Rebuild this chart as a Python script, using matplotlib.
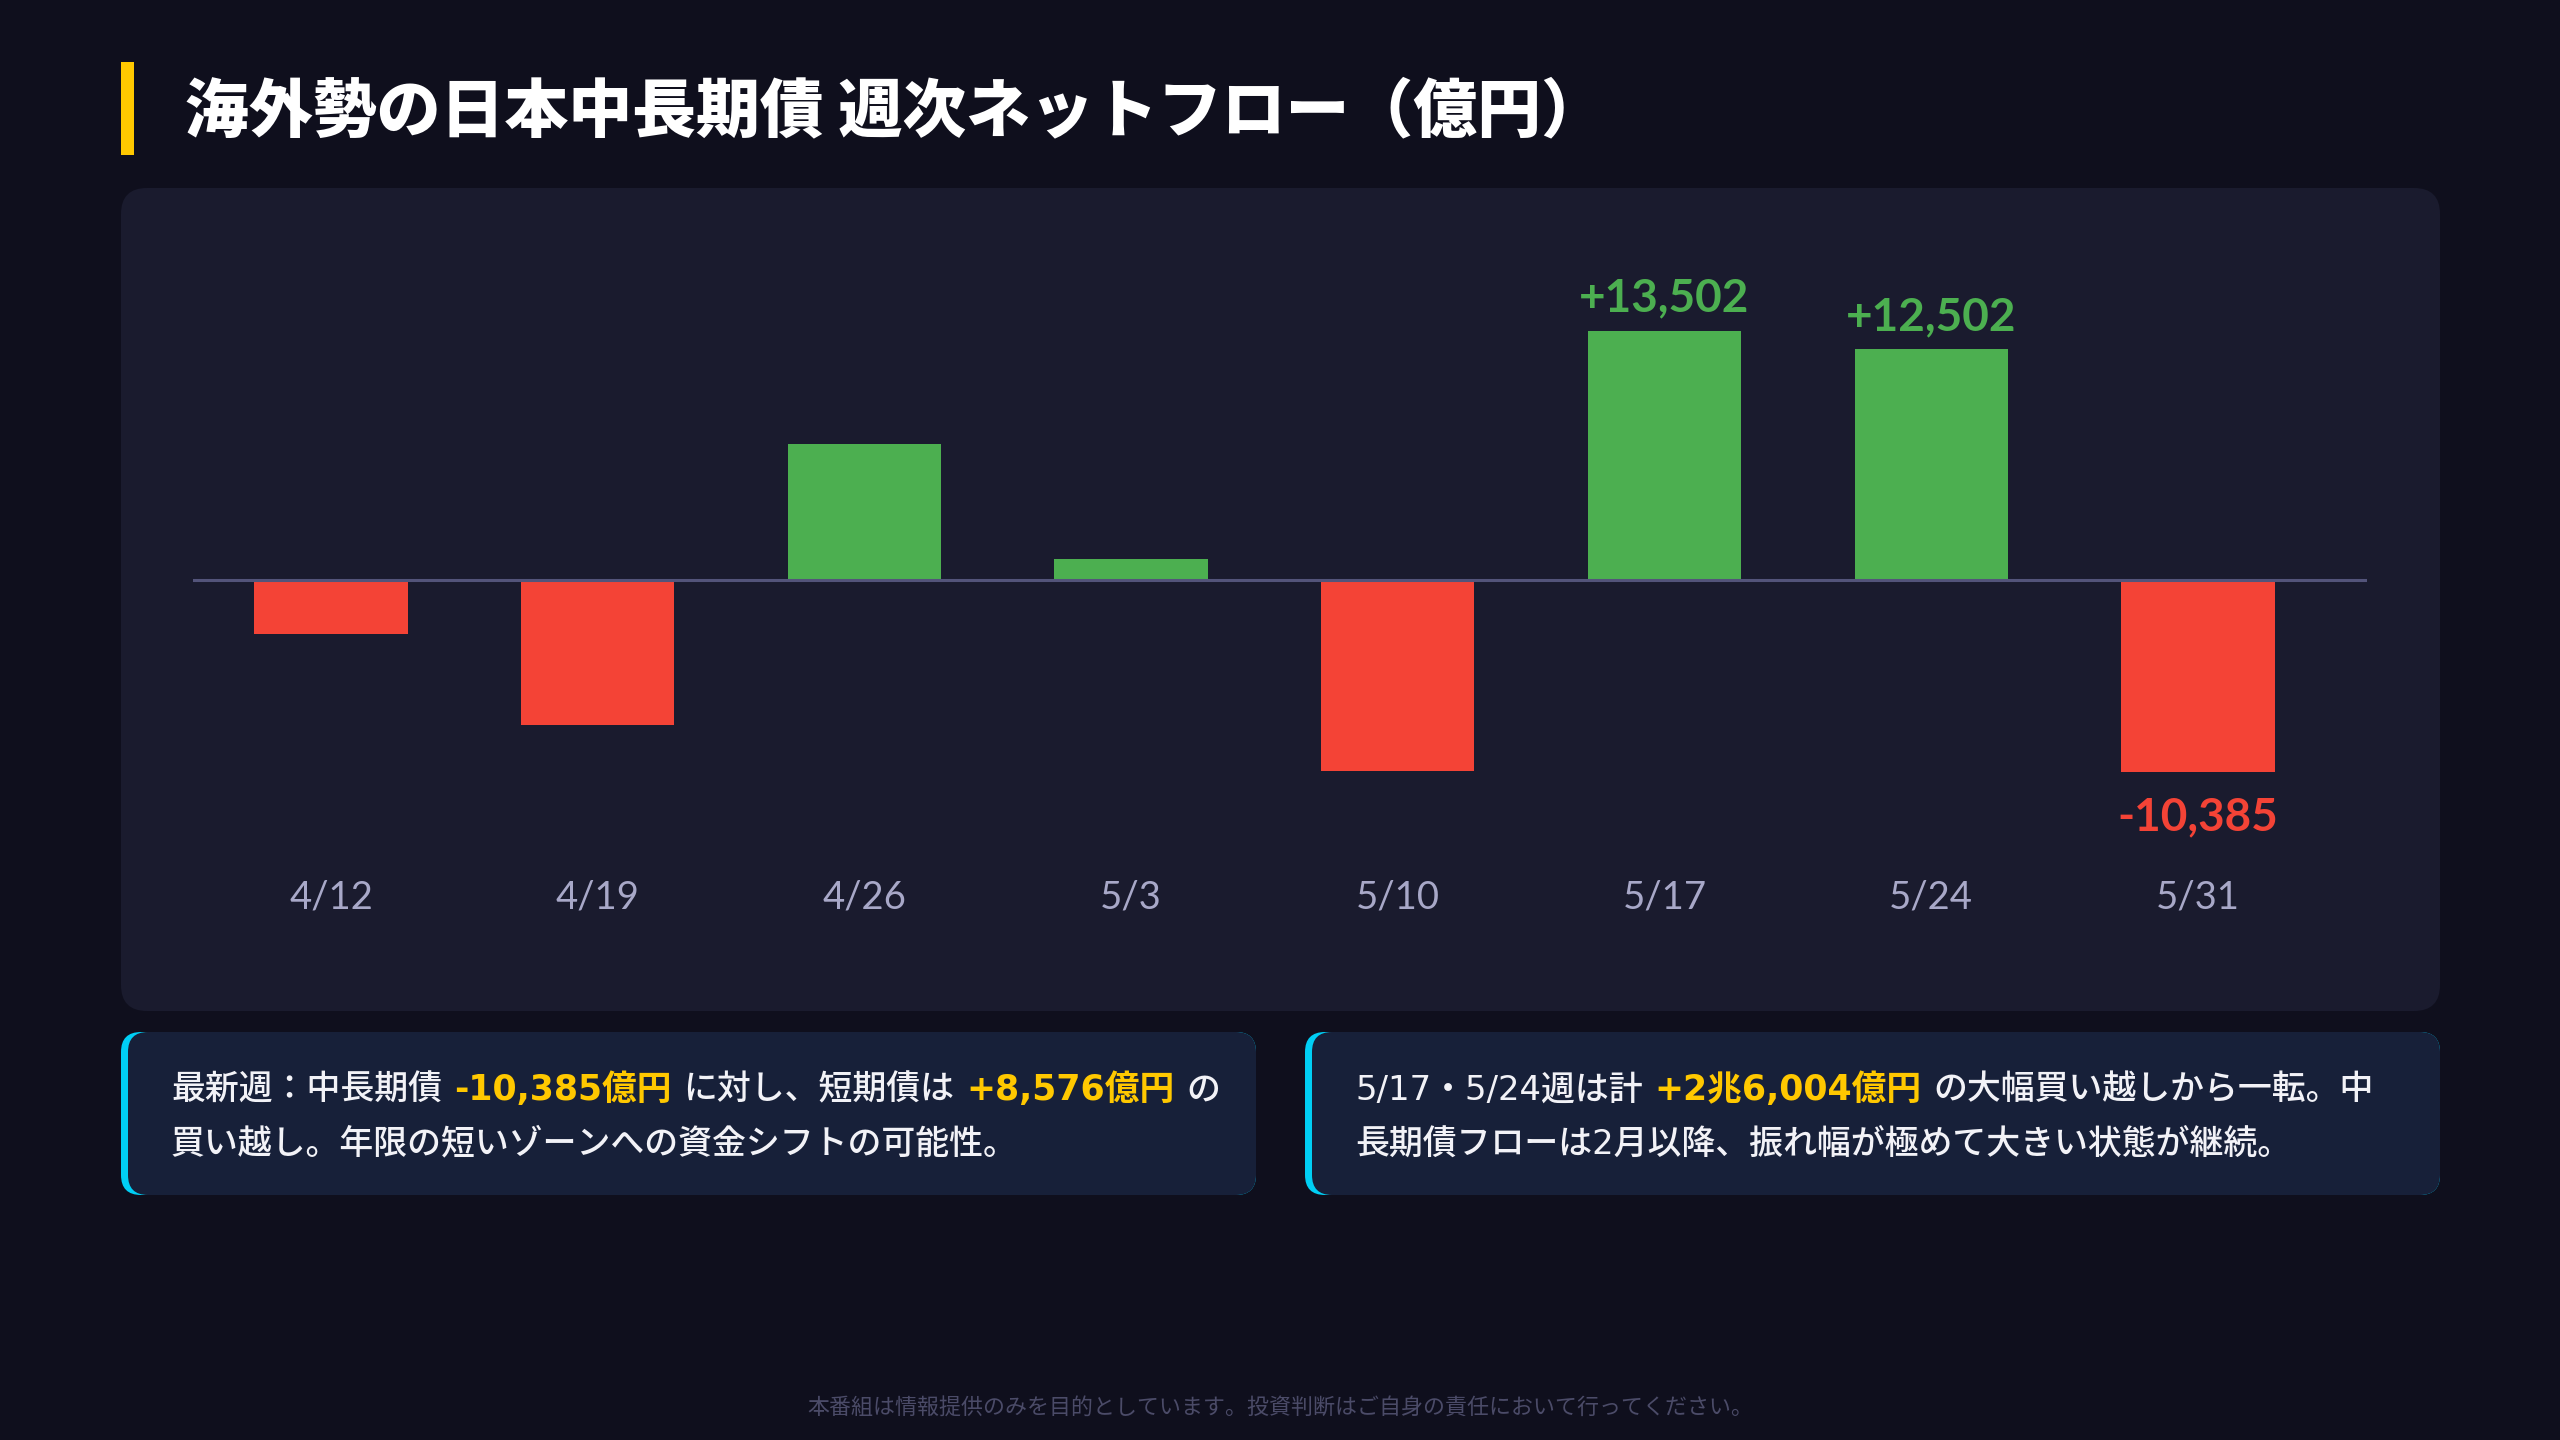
import matplotlib
matplotlib.use('agg')
import matplotlib.pyplot as plt
import matplotlib.transforms as mtransforms
from matplotlib.patches import FancyBboxPatch, Rectangle

# data
weeks = ['4/12', '4/19', '4/26', '5/3', '5/10', '5/17', '5/24', '5/31']
flows = [-2950, -7860, 7370, 1140, -10350, 13502, 12502, -10385]
labeled = [5, 6, 7]  # bars with value labels

title = '海外勢の日本中長期債 週次ネットフロー（億円）'
note1 = [
    [('最新週：中長期債', False), ('-10,385億円', True), ('に対し、短期債は', False),
     ('+8,576億円', True), ('の', False)],
    [('買い越し。年限の短いゾーンへの資金シフトの可能性。', False)],
]
note2 = [
    [('5/17・5/24週は計', False), ('+2兆6,004億円', True), ('の大幅買い越しから一転。中', False)],
    [('長期債フローは2月以降、振れ幅が極めて大きい状態が継続。', False)],
]
footer = '本番組は情報提供のみを目的としています。投資判断はご自身の責任において行ってください。'

# colours
BG = '#0f0f1d'
PANEL = '#1a1b2e'
BOX = '#172039'
GREEN = '#4caf50'
RED = '#f44336'
ZERO = '#53547a'
TICK = '#a8a8c8'
YELLOW = '#ffc800'
CYAN = '#00cff5'
WHITE = '#f2f2f7'
FOOT = '#4b4b68'

CJK = ['Noto Sans CJK JP', 'DejaVu Sans']
MIX = ['DejaVu Sans', 'Noto Sans CJK JP']
NUM = ['Lato', 'DejaVu Sans']

W, H = 2560, 1440
fig = plt.figure(figsize=(W / 100, H / 100), dpi=100, facecolor=BG)

# background layer in pixel coords (y measured from top)
bg = fig.add_axes([0, 0, 1, 1])
bg.set_xlim(0, W)
bg.set_ylim(H, 0)
bg.axis('off')
bg.set_facecolor(BG)


def rbox(x0, y0, x1, y1, color, r):
    bg.add_patch(FancyBboxPatch((x0, y0), x1 - x0, y1 - y0,
                                boxstyle='round,pad=0,rounding_size=%d' % r,
                                facecolor=color, edgecolor='none', zorder=1))


# title
bg.add_patch(Rectangle((121, 62), 13, 93, facecolor=YELLOW, edgecolor='none'))
bg.text(185, 113, title, fontsize=46, fontweight='heavy', color='white',
        va='center', ha='left', family=CJK)

# chart panel
rbox(121, 188, 2440, 1011, PANEL, 26)

# note boxes with cyan left border
for x0, x1 in [(121, 1256), (1305, 2440)]:
    rbox(x0, 1032, x1, 1195, CYAN, 20)
    rbox(x0 + 7, 1032, x1, 1195, BOX, 20)

renderer = fig.canvas.get_renderer()


def rich_line(x, y, parts, size=24.4, gap=12):
    for text, hl in parts:
        if hl:
            t = bg.text(x, y, text, fontsize=25, color=YELLOW, fontweight='bold',
                        va='center', ha='left', family=MIX, zorder=3)
        else:
            t = bg.text(x, y, text, fontsize=size, color=WHITE, fontweight='medium',
                        va='center', ha='left', family=MIX, zorder=3)
        x += t.get_window_extent(renderer=renderer).width + gap


for x0, lines in [(171, note1), (1355, note2)]:
    for k, parts in enumerate(lines):
        rich_line(x0, 1090 + 54 * k, parts)

bg.text(1280, 1409, footer, fontsize=15.8, color=FOOT, ha='center', va='center',
        family=CJK)

# bar chart
S = 0.01845          # px per 100M yen
zero_px = 860        # zero line, px from bottom
ax_bottom, ax_top = 429, 1252
ax_left, ax_right = 193, 2367
ax = fig.add_axes([ax_left / W, ax_bottom / H, (ax_right - ax_left) / W, (ax_top - ax_bottom) / H])
ax.set_facecolor('none')
ax.set_xlim(-0.5175, 7.634)
ax.set_ylim((ax_bottom - zero_px) / S, (ax_top - zero_px) / S)
ax.axis('off')

x = list(range(len(weeks)))
colors = [GREEN if v > 0 else RED for v in flows]
ax.bar(x, flows, width=0.575, color=colors, zorder=2)
ax.axhline(0, color=ZERO, lw=2.2, zorder=3)

tick_tr = mtransforms.blended_transform_factory(ax.transData, bg.transData)
for i, lab in enumerate(weeks):
    ax.text(i, 898, lab, transform=tick_tr, fontsize=27.5, color=TICK,
            ha='center', va='center', family=NUM)

for i in labeled:
    v = flows[i]
    c = GREEN if v > 0 else RED
    off = 19 if v > 0 else -59
    ax.annotate(f'{v:+,}', xy=(i, v), xytext=(0, off), textcoords='offset pixels',
                fontsize=33, fontweight='bold', color=c, ha='center', va='baseline',
                family=NUM)

fig.savefig('out.png', dpi=100, facecolor=BG)
